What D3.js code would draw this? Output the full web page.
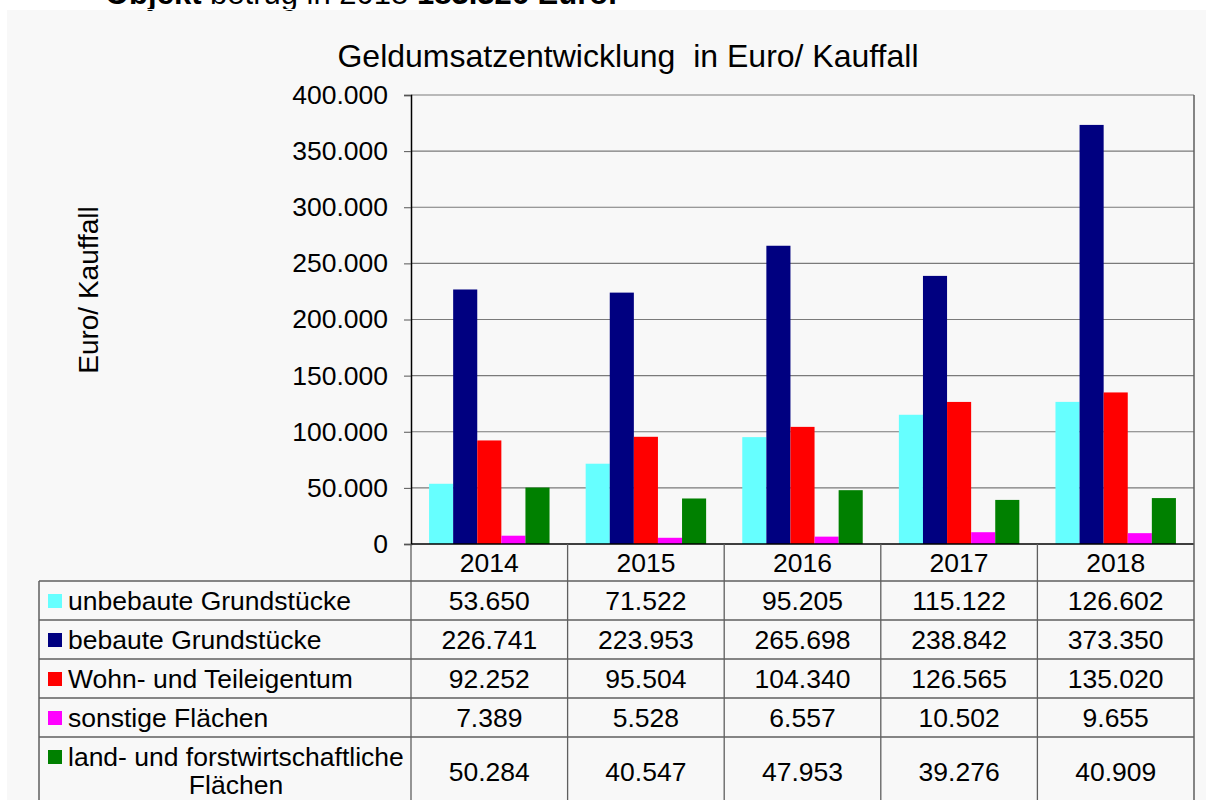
<!DOCTYPE html>
<html>
<head>
<meta charset="utf-8">
<script src="https://cdn.jsdelivr.net/npm/d3@7"></script>
<style>
  body { margin: 0; background: #fff; }
  svg { display: block; font-family: "Liberation Sans", Arial, sans-serif; }
</style>
</head>
<body>
<div id="chart"></div>
<script>
const years = ['2014', '2015', '2016', '2017', '2018'];
const seriesNames = [
  'unbebaute Grundstücke',
  'bebaute Grundstücke',
  'Wohn- und Teileigentum',
  'sonstige Flächen',
  'land- und forstwirtschaftliche Flächen'
];
const unbebaut = [53650, 71522, 95205, 115122, 126602];
const bebaut = [226741, 223953, 265698, 238842, 373350];
const wohnTeil = [92252, 95504, 104340, 126565, 135020];
const sonstige = [7389, 5528, 6557, 10502, 9655];
const landForst = [50284, 40547, 47953, 39276, 40909];
const yTicks = [0, 50000, 100000, 150000, 200000, 250000, 300000, 350000, 400000];
const colors = ['#66ffff', '#000080', '#ff0000', '#ff00ff', '#008000'];

const values = [unbebaut, bebaut, wohnTeil, sonstige, landForst];
const rows = seriesNames.map((name, i) => ({ name, color: colors[i], vals: values[i] }));

const width = 1206;
const height = 800;
const de = d3.formatLocale({ decimal: ',', thousands: '.', grouping: [3], currency: ['', ' €'] });
const fmt = de.format(',d');

const plot = { left: 411, right: 1194, top: 95, bottom: 544 };
const tableLeft = 39;
const rowH = 39;
const headerBottom = 581;
const lineColor = '#5f5f5f';
const fs = 26.5;

const svg = d3.select('#chart').append('svg')
  .attr('width', width)
  .attr('height', height);

// panel
svg.append('rect')
  .attr('x', 7).attr('y', 10)
  .attr('width', width - 7).attr('height', height - 10)
  .attr('fill', '#f8f8f8');

// text from the page above, cut by the panel edge
const above = svg.append('text')
  .attr('x', 105).attr('y', 4)
  .attr('font-size', 31);
above.append('tspan').attr('font-weight', 'bold').text('Objekt');
above.append('tspan').text(' betrug in 2018 ');
above.append('tspan').attr('font-weight', 'bold').text('183.326 Euro.');

svg.append('rect')
  .attr('x', 0).attr('y', 9).attr('width', width).attr('height', 1)
  .attr('fill', '#fff');

const x0 = d3.scaleBand().domain(years).range([plot.left, plot.right]).paddingInner(0);
const x1 = d3.scaleBand().domain(d3.range(seriesNames.length))
  .range([0, x0.bandwidth()]).paddingInner(0).paddingOuter(0.75);
const y = d3.scaleLinear().domain([0, 400000]).range([plot.bottom, plot.top]);

// gridlines
svg.append('g')
  .selectAll('line')
  .data(yTicks.filter((d) => d > 0))
  .join('line')
  .attr('x1', plot.left).attr('x2', plot.right)
  .attr('y1', (d) => y(d)).attr('y2', (d) => y(d))
  .attr('stroke', '#7a7a7a')
  .attr('stroke-width', 1.2);

// y axis
const yAxis = svg.append('g')
  .attr('transform', `translate(${plot.left},0)`)
  .call(d3.axisLeft(y).tickValues(yTicks).tickSize(7).tickPadding(16).tickFormat(fmt));
yAxis.select('.domain').attr('stroke', '#000').attr('stroke-width', 1.5);
yAxis.selectAll('.tick line').attr('stroke', '#555');
yAxis.selectAll('text')
  .attr('font-size', fs)
  .attr('font-family', '"Liberation Sans", Arial, sans-serif')
  .attr('fill', '#000');

// bars
const groups = svg.append('g')
  .selectAll('g')
  .data(years)
  .join('g')
  .attr('transform', (d) => `translate(${x0(d)},0)`);
groups.selectAll('rect')
  .data((d, j) => rows.map((r, i) => ({ i, v: r.vals[j], color: r.color })))
  .join('rect')
  .attr('x', (d) => x1(d.i))
  .attr('width', x1.bandwidth())
  .attr('y', (d) => y(d.v))
  .attr('height', (d) => y(0) - y(d.v))
  .attr('fill', (d) => d.color);

// x axis baseline
svg.append('line')
  .attr('x1', plot.left).attr('x2', plot.right)
  .attr('y1', plot.bottom).attr('y2', plot.bottom)
  .attr('stroke', '#000').attr('stroke-width', 1.5);

// right border
svg.append('line')
  .attr('x1', plot.right).attr('x2', plot.right)
  .attr('y1', plot.top).attr('y2', height)
  .attr('stroke', lineColor).attr('stroke-width', 1.5);

// title
svg.append('text')
  .attr('x', 628).attr('y', 67)
  .attr('text-anchor', 'middle')
  .attr('font-size', 32)
  .attr('xml:space', 'preserve')
  .text('Geldumsatzentwicklung  in Euro/ Kauffall');

// y label
svg.append('text')
  .attr('transform', 'translate(98,290) rotate(-90)')
  .attr('text-anchor', 'middle')
  .attr('font-size', 28)
  .text('Euro/ Kauffall');

// data table
const table = svg.append('g');
const rowTop = (i) => headerBottom + i * rowH;

// column lines
table.selectAll('line.col')
  .data(years)
  .join('line')
  .attr('class', 'col')
  .attr('x1', (d) => x0(d)).attr('x2', (d) => x0(d))
  .attr('y1', plot.bottom).attr('y2', height)
  .attr('stroke', lineColor).attr('stroke-width', 1.3);
table.append('line')
  .attr('x1', tableLeft).attr('x2', tableLeft)
  .attr('y1', headerBottom).attr('y2', height)
  .attr('stroke', lineColor).attr('stroke-width', 1.5);
table.selectAll('line.row')
  .data(d3.range(rows.length))
  .join('line')
  .attr('class', 'row')
  .attr('x1', tableLeft).attr('x2', plot.right)
  .attr('y1', (i) => rowTop(i)).attr('y2', (i) => rowTop(i))
  .attr('stroke', lineColor).attr('stroke-width', 1.3);

// header years
table.selectAll('text.year')
  .data(years)
  .join('text')
  .attr('class', 'year')
  .attr('x', (d) => x0(d) + x0.bandwidth() / 2)
  .attr('y', plot.bottom + 28)
  .attr('text-anchor', 'middle')
  .attr('font-size', fs)
  .text((d) => d);

const rowG = table.selectAll('g.r')
  .data(rows)
  .join('g')
  .attr('class', 'r')
  .attr('transform', (d, i) => `translate(0,${rowTop(i)})`);

rowG.append('rect')
  .attr('x', 48)
  .attr('y', 13)
  .attr('width', 14).attr('height', 14)
  .attr('fill', (d) => d.color);

rowG.each(function (d, i) {
  const g = d3.select(this);
  if (i === rows.length - 1) {
    g.append('text').attr('x', 68).attr('y', 29).attr('font-size', fs)
      .text('land- und forstwirtschaftliche');
    g.append('text').attr('x', 236).attr('y', 57).attr('font-size', fs)
      .attr('text-anchor', 'middle').text('Flächen');
  } else {
    g.append('text').attr('x', 68).attr('y', 29).attr('font-size', fs).text(d.name);
  }
});

rowG.selectAll('text.val')
  .data((d, i) => d.vals.map((v, j) => ({ v, j, i })))
  .join('text')
  .attr('class', 'val')
  .attr('x', (d) => x0(years[d.j]) + x0.bandwidth() / 2)
  .attr('y', (d) => (d.i === rows.length - 1 ? 44 : 29))
  .attr('text-anchor', 'middle')
  .attr('font-size', fs)
  .text((d) => fmt(d.v));
</script>
</body>
</html>
